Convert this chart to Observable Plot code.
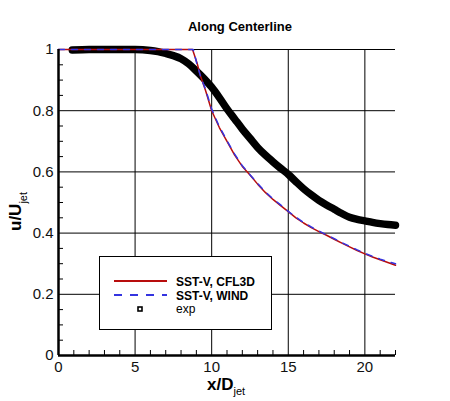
<!DOCTYPE html>
<html>
<head>
<meta charset="utf-8">
<script src="https://cdn.jsdelivr.net/npm/d3@7"></script>
<script src="https://cdn.jsdelivr.net/npm/@observablehq/plot@0.6"></script>
<style>
  html, body { margin: 0; padding: 0; background: #fff; }
  #chart svg { display: block; }
</style>
</head>
<body>
<div id="chart"></div>
<script>
// ---- data ----
const titleText = "Along Centerline";
const seriesNames = ["SST-V, CFL3D", "SST-V, WIND", "exp"];

const cfl3dX = [0, 8.75, 9.05, 9.27, 9.6, 10, 10.5, 11, 11.5, 12, 12.5, 13, 13.5, 14, 14.5, 15, 15.5, 16, 16.5, 17, 17.5, 18, 18.5, 19, 19.5, 20, 20.5, 21, 21.5, 22];
const cfl3dY = [1, 1, 0.955, 0.913, 0.866, 0.8, 0.745, 0.7, 0.655, 0.618, 0.59, 0.56, 0.533, 0.51, 0.49, 0.47, 0.45, 0.433, 0.418, 0.405, 0.393, 0.38, 0.367, 0.355, 0.343, 0.332, 0.322, 0.313, 0.304, 0.295];

const windX = [0, 8.8, 9.05, 9.3, 9.6, 10, 10.5, 11, 11.5, 12, 12.5, 13, 13.5, 14, 14.5, 15, 15.5, 16, 16.5, 17, 17.5, 18, 18.5, 19, 19.5, 20, 20.5, 21, 21.5, 22];
const windY = [1, 1, 0.95, 0.908, 0.87, 0.805, 0.748, 0.702, 0.658, 0.62, 0.591, 0.562, 0.535, 0.512, 0.492, 0.471, 0.452, 0.435, 0.42, 0.407, 0.394, 0.382, 0.369, 0.357, 0.345, 0.334, 0.324, 0.315, 0.307, 0.3];

const expX = [0.9, 2, 3, 4, 5, 6, 6.5, 7, 7.5, 8, 8.5, 9, 9.5, 10, 10.5, 11, 11.5, 12, 12.5, 13, 13.5, 14, 14.5, 15, 15.5, 16, 16.5, 17, 17.5, 18, 18.5, 19, 19.5, 20, 20.5, 21, 21.5, 22];
const expY = [0.998, 1, 1, 1, 1, 0.997, 0.993, 0.987, 0.98, 0.97, 0.953, 0.93, 0.905, 0.877, 0.843, 0.806, 0.773, 0.74, 0.71, 0.68, 0.655, 0.633, 0.612, 0.592, 0.568, 0.545, 0.525, 0.507, 0.492, 0.478, 0.464, 0.452, 0.445, 0.44, 0.435, 0.431, 0.428, 0.426];

const xTicks = [0, 5, 10, 15, 20];
const xGrid = [5, 10, 15, 20];
const xMinor = [1, 2, 3, 4, 6, 7, 8, 9, 11, 12, 13, 14, 16, 17, 18, 19, 21, 22];
const yTicks = [0, 0.2, 0.4, 0.6, 0.8, 1];
const yGrid = [0.2, 0.4, 0.6, 0.8, 1];
const yMinor = [0.05, 0.1, 0.15, 0.25, 0.3, 0.35, 0.45, 0.5, 0.55, 0.65, 0.7, 0.75, 0.85, 0.9, 0.95];

const colors = { cfl3d: "#b80d0d", wind: "#3434e0", exp: "#000000" };

const cfl3d = cfl3dX.map((x, i) => ({ x, y: cfl3dY[i] }));
const wind = windX.map((x, i) => ({ x, y: windY[i] }));
const exp = expX.map((x, i) => ({ x, y: expY[i] }));

const FONT = "'Liberation Sans', Arial, Helvetica, sans-serif";

const W = 450, H = 401;
const chart = Plot.plot({
  width: W,
  height: H,
  marginLeft: 58,
  marginRight: 55,
  marginTop: 49,
  marginBottom: 46,
  style: { fontFamily: FONT, background: "#fff", color: "#000" },
  x: { domain: [0, 22] },
  y: { domain: [0, 1] },
  marks: [
    Plot.ruleX(xGrid, { stroke: "#000", strokeWidth: 1 }),
    Plot.ruleY(yGrid, { stroke: "#000", strokeWidth: 1 }),
    Plot.axisX({ ticks: xMinor, tickSize: -5, tickFormat: () => "", label: null, stroke: "#000", strokeWidth: 1 }),
    Plot.axisY({ ticks: yMinor, tickSize: -5, tickFormat: () => "", label: null, stroke: "#000", strokeWidth: 1 }),
    Plot.axisX({ ticks: xTicks, tickSize: 0, tickPadding: 6, fontSize: 15, tickFormat: d => String(d), label: null, fill: "#111" }),
    Plot.axisY({ ticks: yTicks, tickSize: 0, tickPadding: 5, fontSize: 15, tickFormat: d => String(d), label: null, fill: "#111" }),
    Plot.line(exp, { x: "x", y: "y", stroke: colors.exp, strokeWidth: 7.5, strokeLinecap: "round", strokeLinejoin: "round", curve: "monotone-x" }),
    Plot.line(cfl3d, { x: "x", y: "y", stroke: colors.cfl3d, strokeWidth: 1.5, curve: "linear" }),
    Plot.line(wind, { x: "x", y: "y", stroke: colors.wind, strokeWidth: 1.5, strokeDasharray: "6,7", curve: "linear" }),
    Plot.ruleX([0], { stroke: "#000", strokeWidth: 2.5 }),
    Plot.ruleY([0], { stroke: "#000", strokeWidth: 2.5 })
  ]
});
document.getElementById("chart").appendChild(chart);

// ---- annotations: title, axis labels, legend ----
const svg = d3.select(chart);

svg.append("text")
  .attr("x", 240).attr("y", 31)
  .attr("text-anchor", "middle")
  .attr("font-family", FONT).attr("font-weight", "bold").attr("font-size", 13)
  .attr("fill", "#000")
  .text(titleText);

const xl = svg.append("text")
  .attr("x", 207).attr("y", 390)
  .attr("text-anchor", "start")
  .attr("font-family", FONT).attr("fill", "#000");
xl.append("tspan").attr("font-weight", "bold").attr("font-size", 17).text("x/D");
xl.append("tspan").attr("font-size", 11).attr("dy", 5).text("jet");

const yl = svg.append("text")
  .attr("transform", "translate(21,231) rotate(-90)")
  .attr("text-anchor", "start")
  .attr("font-family", FONT).attr("fill", "#000");
yl.append("tspan").attr("font-weight", "bold").attr("font-size", 17).text("u/U");
yl.append("tspan").attr("font-size", 11).attr("dy", 6).text("jet");

const lg = svg.append("g").attr("text-anchor", "start");
lg.append("rect")
  .attr("x", 99.5).attr("y", 256.5).attr("width", 172).attr("height", 73)
  .attr("fill", "#fff").attr("stroke", "#000").attr("stroke-width", 1);
lg.append("line").attr("x1", 114).attr("x2", 167).attr("y1", 281).attr("y2", 281)
  .attr("stroke", colors.cfl3d).attr("stroke-width", 2);
lg.append("line").attr("x1", 114).attr("x2", 167).attr("y1", 295).attr("y2", 295)
  .attr("stroke", colors.wind).attr("stroke-width", 2).attr("stroke-dasharray", "8,8");
lg.append("rect").attr("x", 138).attr("y", 307).attr("width", 4).attr("height", 4)
  .attr("fill", "#fff").attr("stroke", "#000").attr("stroke-width", 1.6);
const baselines = [285.5, 299.5, 313];
seriesNames.forEach((name, i) => {
  lg.append("text")
    .attr("x", 176).attr("y", baselines[i])
    .attr("text-anchor", "start")
    .attr("font-family", FONT).attr("font-weight", i < 2 ? "bold" : "normal")
    .attr("font-size", 12).attr("fill", "#000")
    .text(name);
});
</script>
</body>
</html>
